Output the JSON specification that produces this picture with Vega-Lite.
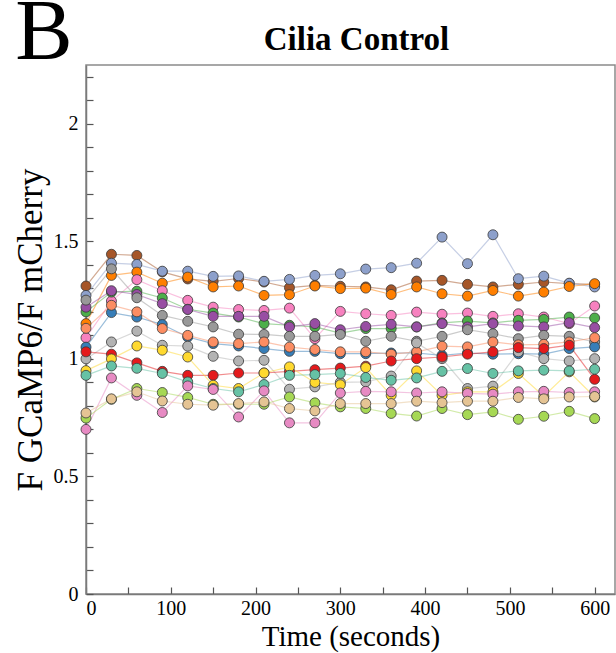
{
"$schema": "https://vega.github.io/schema/vega-lite/v6.json",
"autosize": "none",
"padding": {"left": 86, "top": 65, "right": 530, "bottom": 588},
"background": "white",
"title": {"text": "B", "anchor": "start", "frame": "bounds", "fontSize": 86, "font": "Liberation Serif", "fontWeight": "normal", "color": "black", "dx": 3, "dy": 58},
"hconcat": [{
"width": 529, "height": 529,
"title": {"text": "Cilia Control", "fontSize": 33, "font": "Liberation Serif", "fontWeight": "bold", "anchor": "middle", "offset": 8, "dx": 6, "color": "black"},
"data": {"values": [
{"s":"a","t":0,"v":1.31},{"s":"a","t":30,"v":1.445},{"s":"a","t":60,"v":1.44},{"s":"a","t":90,"v":1.37},{"s":"a","t":120,"v":1.34},{"s":"a","t":150,"v":1.33},{"s":"a","t":180,"v":1.342},{"s":"a","t":210,"v":1.327},{"s":"a","t":240,"v":1.303},{"s":"a","t":270,"v":1.313},{"s":"a","t":300,"v":1.309},{"s":"a","t":330,"v":1.306},{"s":"a","t":360,"v":1.294},{"s":"a","t":390,"v":1.331},{"s":"a","t":420,"v":1.334},{"s":"a","t":450,"v":1.317},{"s":"a","t":480,"v":1.306},{"s":"a","t":510,"v":1.317},{"s":"a","t":540,"v":1.327},{"s":"a","t":570,"v":1.32},{"s":"a","t":600,"v":1.317},
{"s":"b","t":0,"v":1.27},{"s":"b","t":30,"v":1.407},{"s":"b","t":60,"v":1.402},{"s":"b","t":90,"v":1.373},{"s":"b","t":120,"v":1.373},{"s":"b","t":150,"v":1.351},{"s":"b","t":180,"v":1.353},{"s":"b","t":210,"v":1.33},{"s":"b","t":240,"v":1.338},{"s":"b","t":270,"v":1.355},{"s":"b","t":300,"v":1.362},{"s":"b","t":330,"v":1.382},{"s":"b","t":360,"v":1.388},{"s":"b","t":390,"v":1.407},{"s":"b","t":420,"v":1.518},{"s":"b","t":450,"v":1.405},{"s":"b","t":480,"v":1.528},{"s":"b","t":510,"v":1.341},{"s":"b","t":540,"v":1.352},{"s":"b","t":570,"v":1.322},{"s":"b","t":600,"v":1.306},
{"s":"c","t":0,"v":1.15},{"s":"c","t":30,"v":1.355},{"s":"c","t":60,"v":1.369},{"s":"c","t":90,"v":1.322},{"s":"c","t":120,"v":1.348},{"s":"c","t":150,"v":1.306},{"s":"c","t":180,"v":1.31},{"s":"c","t":210,"v":1.27},{"s":"c","t":240,"v":1.273},{"s":"c","t":270,"v":1.31},{"s":"c","t":300,"v":1.299},{"s":"c","t":330,"v":1.301},{"s":"c","t":360,"v":1.274},{"s":"c","t":390,"v":1.306},{"s":"c","t":420,"v":1.277},{"s":"c","t":450,"v":1.267},{"s":"c","t":480,"v":1.291},{"s":"c","t":510,"v":1.267},{"s":"c","t":540,"v":1.284},{"s":"c","t":570,"v":1.308},{"s":"c","t":600,"v":1.32},
{"s":"d","t":0,"v":1.09},{"s":"d","t":30,"v":1.246},{"s":"d","t":60,"v":1.337},{"s":"d","t":90,"v":1.29},{"s":"d","t":120,"v":1.249},{"s":"d","t":150,"v":1.22},{"s":"d","t":180,"v":1.21},{"s":"d","t":210,"v":1.206},{"s":"d","t":240,"v":1.216},{"s":"d","t":270,"v":1.086},{"s":"d","t":300,"v":1.202},{"s":"d","t":330,"v":1.192},{"s":"d","t":360,"v":1.185},{"s":"d","t":390,"v":1.199},{"s":"d","t":420,"v":1.19},{"s":"d","t":450,"v":1.195},{"s":"d","t":480,"v":1.181},{"s":"d","t":510,"v":1.192},{"s":"d","t":540,"v":1.178},{"s":"d","t":570,"v":1.15},{"s":"d","t":600,"v":1.225},
{"s":"e","t":0,"v":1.2},{"s":"e","t":30,"v":1.284},{"s":"e","t":60,"v":1.288},{"s":"e","t":90,"v":1.259},{"s":"e","t":120,"v":1.211},{"s":"e","t":150,"v":1.195},{"s":"e","t":180,"v":1.178},{"s":"e","t":210,"v":1.15},{"s":"e","t":240,"v":1.143},{"s":"e","t":270,"v":1.136},{"s":"e","t":300,"v":1.11},{"s":"e","t":330,"v":1.129},{"s":"e","t":360,"v":1.129},{"s":"e","t":390,"v":1.136},{"s":"e","t":420,"v":1.153},{"s":"e","t":450,"v":1.161},{"s":"e","t":480,"v":1.153},{"s":"e","t":510,"v":1.164},{"s":"e","t":540,"v":1.168},{"s":"e","t":570,"v":1.178},{"s":"e","t":600,"v":1.174},
{"s":"f","t":0,"v":1.22},{"s":"f","t":30,"v":1.29},{"s":"f","t":60,"v":1.274},{"s":"f","t":90,"v":1.235},{"s":"f","t":120,"v":1.21},{"s":"f","t":150,"v":1.181},{"s":"f","t":180,"v":1.181},{"s":"f","t":210,"v":1.181},{"s":"f","t":240,"v":1.136},{"s":"f","t":270,"v":1.15},{"s":"f","t":300,"v":1.124},{"s":"f","t":330,"v":1.138},{"s":"f","t":360,"v":1.147},{"s":"f","t":390,"v":1.136},{"s":"f","t":420,"v":1.15},{"s":"f","t":450,"v":1.136},{"s":"f","t":480,"v":1.15},{"s":"f","t":510,"v":1.14},{"s":"f","t":540,"v":1.136},{"s":"f","t":570,"v":1.154},{"s":"f","t":600,"v":1.133},
{"s":"g","t":0,"v":1.25},{"s":"g","t":30,"v":1.383},{"s":"g","t":60,"v":1.26},{"s":"g","t":90,"v":1.185},{"s":"g","t":120,"v":1.16},{"s":"g","t":150,"v":1.136},{"s":"g","t":180,"v":1.105},{"s":"g","t":210,"v":1.104},{"s":"g","t":240,"v":1.096},{"s":"g","t":270,"v":1.096},{"s":"g","t":300,"v":1.104},{"s":"g","t":330,"v":1.075},{"s":"g","t":360,"v":1.096},{"s":"g","t":390,"v":1.075},{"s":"g","t":420,"v":1.096},{"s":"g","t":450,"v":1.124},{"s":"g","t":480,"v":1.107},{"s":"g","t":510,"v":1.086},{"s":"g","t":540,"v":1.1},{"s":"g","t":570,"v":1.096},{"s":"g","t":600,"v":1.072},
{"s":"h","t":0,"v":1.05},{"s":"h","t":30,"v":1.197},{"s":"h","t":60,"v":1.178},{"s":"h","t":90,"v":1.146},{"s":"h","t":120,"v":1.093},{"s":"h","t":150,"v":1.065},{"s":"h","t":180,"v":1.055},{"s":"h","t":210,"v":1.044},{"s":"h","t":240,"v":1.032},{"s":"h","t":270,"v":1.032},{"s":"h","t":300,"v":1.022},{"s":"h","t":330,"v":1.022},{"s":"h","t":360,"v":1.025},{"s":"h","t":390,"v":1.025},{"s":"h","t":420,"v":1.015},{"s":"h","t":450,"v":1.025},{"s":"h","t":480,"v":1.02},{"s":"h","t":510,"v":1.022},{"s":"h","t":540,"v":1.02},{"s":"h","t":570,"v":1.044},{"s":"h","t":600,"v":1.051},
{"s":"i","t":0,"v":1.13},{"s":"i","t":30,"v":1.228},{"s":"i","t":60,"v":1.2},{"s":"i","t":90,"v":1.129},{"s":"i","t":120,"v":1.1},{"s":"i","t":150,"v":1.072},{"s":"i","t":180,"v":1.065},{"s":"i","t":210,"v":1.072},{"s":"i","t":240,"v":1.05},{"s":"i","t":270,"v":1.04},{"s":"i","t":300,"v":1.03},{"s":"i","t":330,"v":1.03},{"s":"i","t":360,"v":1.02},{"s":"i","t":390,"v":1.03},{"s":"i","t":420,"v":1.054},{"s":"i","t":450,"v":1.051},{"s":"i","t":480,"v":1.072},{"s":"i","t":510,"v":1.06},{"s":"i","t":540,"v":1.062},{"s":"i","t":570,"v":1.072},{"s":"i","t":600,"v":1.09},
{"s":"j","t":0,"v":1.0},{"s":"j","t":30,"v":1.072},{"s":"j","t":60,"v":1.118},{"s":"j","t":90,"v":1.058},{"s":"j","t":120,"v":1.054},{"s":"j","t":150,"v":1.011},{"s":"j","t":180,"v":0.991},{"s":"j","t":210,"v":0.994},{"s":"j","t":240,"v":0.871},{"s":"j","t":270,"v":0.881},{"s":"j","t":300,"v":0.9},{"s":"j","t":330,"v":0.902},{"s":"j","t":360,"v":0.927},{"s":"j","t":390,"v":1.068},{"s":"j","t":420,"v":1.001},{"s":"j","t":450,"v":0.874},{"s":"j","t":480,"v":0.884},{"s":"j","t":510,"v":1.03},{"s":"j","t":540,"v":1.001},{"s":"j","t":570,"v":0.991},{"s":"j","t":600,"v":1.001},
{"s":"k","t":0,"v":1.03},{"s":"k","t":30,"v":1.02},{"s":"k","t":60,"v":0.983},{"s":"k","t":90,"v":0.947},{"s":"k","t":120,"v":0.93},{"s":"k","t":150,"v":0.93},{"s":"k","t":180,"v":0.94},{"s":"k","t":210,"v":0.94},{"s":"k","t":240,"v":0.947},{"s":"k","t":270,"v":0.954},{"s":"k","t":300,"v":0.961},{"s":"k","t":330,"v":0.969},{"s":"k","t":360,"v":0.991},{"s":"k","t":390,"v":1.001},{"s":"k","t":420,"v":1.008},{"s":"k","t":450,"v":1.02},{"s":"k","t":480,"v":1.03},{"s":"k","t":510,"v":1.048},{"s":"k","t":540,"v":1.044},{"s":"k","t":570,"v":1.058},{"s":"k","t":600,"v":0.913},
{"s":"l","t":0,"v":0.95},{"s":"l","t":30,"v":1.0},{"s":"l","t":60,"v":1.055},{"s":"l","t":90,"v":1.037},{"s":"l","t":120,"v":1.008},{"s":"l","t":150,"v":0.888},{"s":"l","t":180,"v":0.874},{"s":"l","t":210,"v":0.94},{"s":"l","t":240,"v":0.966},{"s":"l","t":270,"v":0.9},{"s":"l","t":300,"v":0.89},{"s":"l","t":330,"v":0.963},{"s":"l","t":360,"v":0.845},{"s":"l","t":390,"v":0.949},{"s":"l","t":420,"v":0.845},{"s":"l","t":450,"v":0.86},{"s":"l","t":480,"v":0.86},{"s":"l","t":510,"v":0.938},{"s":"l","t":540,"v":0.841},{"s":"l","t":570,"v":0.945},{"s":"l","t":600,"v":0.838},
{"s":"m","t":0,"v":0.93},{"s":"m","t":30,"v":0.97},{"s":"m","t":60,"v":0.96},{"s":"m","t":90,"v":0.938},{"s":"m","t":120,"v":0.902},{"s":"m","t":150,"v":0.874},{"s":"m","t":180,"v":0.86},{"s":"m","t":210,"v":0.891},{"s":"m","t":240,"v":0.93},{"s":"m","t":270,"v":0.933},{"s":"m","t":300,"v":0.938},{"s":"m","t":330,"v":0.921},{"s":"m","t":360,"v":0.909},{"s":"m","t":390,"v":0.919},{"s":"m","t":420,"v":0.947},{"s":"m","t":450,"v":0.959},{"s":"m","t":480,"v":0.938},{"s":"m","t":510,"v":0.949},{"s":"m","t":540,"v":0.952},{"s":"m","t":570,"v":0.949},{"s":"m","t":600,"v":0.956},
{"s":"n","t":0,"v":0.7},{"s":"n","t":30,"v":0.919},{"s":"n","t":60,"v":0.845},{"s":"n","t":90,"v":0.772},{"s":"n","t":120,"v":0.885},{"s":"n","t":150,"v":0.87},{"s":"n","t":180,"v":0.753},{"s":"n","t":210,"v":0.864},{"s":"n","t":240,"v":0.728},{"s":"n","t":270,"v":0.728},{"s":"n","t":300,"v":0.855},{"s":"n","t":330,"v":0.862},{"s":"n","t":360,"v":0.86},{"s":"n","t":390,"v":0.855},{"s":"n","t":420,"v":0.86},{"s":"n","t":450,"v":0.853},{"s":"n","t":480,"v":0.85},{"s":"n","t":510,"v":0.86},{"s":"n","t":540,"v":0.862},{"s":"n","t":570,"v":0.857},{"s":"n","t":600,"v":0.86},
{"s":"o","t":0,"v":0.748},{"s":"o","t":30,"v":0.828},{"s":"o","t":60,"v":0.874},{"s":"o","t":90,"v":0.857},{"s":"o","t":120,"v":0.836},{"s":"o","t":150,"v":0.807},{"s":"o","t":180,"v":0.807},{"s":"o","t":210,"v":0.807},{"s":"o","t":240,"v":0.838},{"s":"o","t":270,"v":0.813},{"s":"o","t":300,"v":0.796},{"s":"o","t":330,"v":0.789},{"s":"o","t":360,"v":0.768},{"s":"o","t":390,"v":0.757},{"s":"o","t":420,"v":0.789},{"s":"o","t":450,"v":0.763},{"s":"o","t":480,"v":0.775},{"s":"o","t":510,"v":0.743},{"s":"o","t":540,"v":0.756},{"s":"o","t":570,"v":0.777},{"s":"o","t":600,"v":0.746},
{"s":"p","t":0,"v":0.77},{"s":"p","t":30,"v":0.83},{"s":"p","t":60,"v":0.86},{"s":"p","t":90,"v":0.821},{"s":"p","t":120,"v":0.807},{"s":"p","t":150,"v":0.803},{"s":"p","t":180,"v":0.81},{"s":"p","t":210,"v":0.817},{"s":"p","t":240,"v":0.789},{"s":"p","t":270,"v":0.779},{"s":"p","t":300,"v":0.81},{"s":"p","t":330,"v":0.81},{"s":"p","t":360,"v":0.81},{"s":"p","t":390,"v":0.82},{"s":"p","t":420,"v":0.814},{"s":"p","t":450,"v":0.82},{"s":"p","t":480,"v":0.82},{"s":"p","t":510,"v":0.836},{"s":"p","t":540,"v":0.83},{"s":"p","t":570,"v":0.838},{"s":"p","t":600,"v":0.84}
]},
"encoding": {
"x": {"field": "t", "type": "quantitative", "scale": {"domain": [0, 624], "nice": false, "zero": false},
  "axis": {"title": "Time (seconds)", "titleFontSize": 29, "values": [0,50,100,150,200,250,300,350,400,450,500,550,600],
    "labelExpr": "datum.value % 100 == 0 ? datum.label : ''",
    "tickSize": -7,
    "labelPadding": 11, "titlePadding": 4}},
"y": {"field": "v", "type": "quantitative", "scale": {"domain": [0, 2.25], "nice": false, "zero": false},
  "axis": {"title": "F GCaMP6/F mCherry", "titleFontSize": 35, "values": [0,0.1,0.2,0.3,0.4,0.5,0.6,0.7,0.8,0.9,1,1.1,1.2,1.3,1.4,1.5,1.6,1.7,1.8,1.9,2,2.1,2.2],
    "format": ".1~f",
    "labelExpr": "indexof([0,0.5,1,1.5,2], datum.value) >= 0 ? datum.label : ''",
    "tickSize": -7,
    "labelPadding": 15, "titlePadding": 5}},
"color": {"field": "s", "type": "nominal", "legend": null,
  "scale": {"domain": ["a","b","c","d","e","f","g","h","i","j","k","l","m","n","o","p"],
    "range": ["#a65628","#8da0cb","#ff7f00","#f781bf","#4daf4a","#984ea3","#999999","#377eb8","#fc8d62","#b3b3b3","#e41a1c","#ffd92f","#66c2a5","#e78ac3","#a6d854","#e5c494"]}}
},
"layer": [
{"mark": {"type": "line", "strokeWidth": 1.2, "opacity": 0.5}},
{"mark": {"type": "point", "filled": true, "size": 100, "opacity": 1, "stroke": "#3a3a3a", "strokeWidth": 0.8}}
]
}],
"config": {
"view": {"stroke": "#8a8a8a", "strokeWidth": 1.5},
"axis": {"domainColor": "#7a7a7a", "domainWidth": 1.5, "tickColor": "#555555", "tickWidth": 1.2, "grid": false,
  "labelFont": "Liberation Serif", "labelFontSize": 20, "labelColor": "black",
  "titleFont": "Liberation Serif", "titleFontSize": 28, "titleFontWeight": "normal", "titleColor": "black"}
}
}
